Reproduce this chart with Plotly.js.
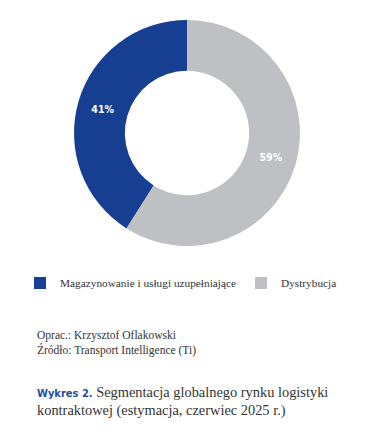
<!DOCTYPE html>
<html>
<head>
<meta charset="utf-8">
<script src="https://cdn.plot.ly/plotly-3.0.1.min.js"></script>
<style>html,body{margin:0;padding:0;background:#fff;}#chart{width:384px;height:441px;}</style>
</head>
<body>
<div id="chart"></div>
<script>
var categories = ['Magazynowanie i usługi uzupełniające', 'Dystrybucja'];
var shares = [41, 59];
var sliceColors = ['#163f91', '#bfc0c3'];
var sourceLines = ['Oprac.: Krzysztof Oflakowski', 'Źródło: Transport Intelligence (Ti)'];
var chartLabel = 'Wykres 2.';
var chartTitle = ['Segmentacja globalnego rynku logistyki', 'kontraktowej (estymacja, czerwiec 2025 r.)'];

var serif = 'Liberation Serif, DejaVu Serif, serif';
var cond = 'DejaVu Sans Condensed, DejaVu Sans, sans-serif';

var data = [{
  type: 'pie',
  labels: categories,
  values: shares,
  hole: 0.55,
  sort: false,
  direction: 'clockwise',
  rotation: -147.6,
  marker: {colors: sliceColors, line: {width: 0}},
  textinfo: 'text',
  text: shares.map(function(v){return v + '%';}),
  textposition: 'inside',
  insidetextorientation: 'horizontal',
  textfont: {family: cond, size: 10.5, color: '#ffffff', weight: 'bold'},
  domain: {x: [74/384, 300/384], y: [1 - 246/441, 1 - 20/441]},
  hoverinfo: 'label+percent'
}];

var H = 441;
function py(y){ return 1 - y / H; }

var annotations = [
  {text: sourceLines[0], x: 35/384, y: py(335), xref: 'paper', yref: 'paper', xanchor: 'left', yanchor: 'middle', showarrow: false, font: {family: serif, size: 11.5, color: '#333333'}},
  {text: sourceLines[1], x: 35/384, y: py(350), xref: 'paper', yref: 'paper', xanchor: 'left', yanchor: 'middle', showarrow: false, font: {family: serif, size: 11.5, color: '#333333'}},
  {text: '<span style="font-family:\'DejaVu Sans Condensed\';font-stretch:condensed;font-weight:bold;color:#1f4ea3;font-size:11px">' + chartLabel + '</span> ' + chartTitle[0], x: 35/384, y: py(392), xref: 'paper', yref: 'paper', xanchor: 'left', yanchor: 'middle', showarrow: false, font: {family: serif, size: 14.4, color: '#333333'}},
  {text: chartTitle[1], x: 35/384, y: py(410), xref: 'paper', yref: 'paper', xanchor: 'left', yanchor: 'middle', showarrow: false, font: {family: serif, size: 14.4, color: '#333333'}}
];

var layout = {
  width: 384, height: 441,
  margin: {l: 0, r: 0, t: 0, b: 0},
  paper_bgcolor: '#ffffff',
  plot_bgcolor: '#ffffff',
  showlegend: true,
  legend: {
    orientation: 'h', x: 20/384, xanchor: 'left', y: py(283), yanchor: 'middle',
    font: {family: serif, size: 11.3, color: '#333333'},
    traceorder: 'normal', itemclick: false, itemdoubleclick: false
  },
  annotations: annotations
};

Plotly.newPlot('chart', data, layout, {displayModeBar: false, staticPlot: true});
</script>
</body>
</html>
